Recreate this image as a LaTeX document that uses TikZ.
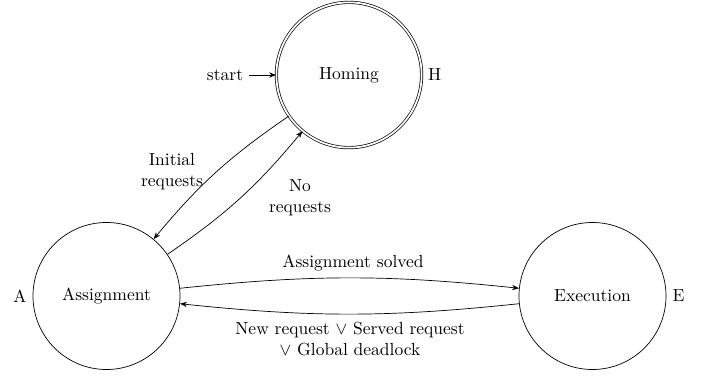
\documentclass[tikz,border=0pt]{standalone}
\usetikzlibrary{arrows.meta}
\begin{document}
\begin{tikzpicture}[x=0.5714pt,y=0.5714pt,
  statenode/.style={circle,draw,minimum size=84pt,inner sep=0pt},
  dbl/.style={double,double distance=1pt},
  trans/.style={-{Stealth[length=4pt,width=3pt]}},
  lbl/.style={align=center}]
\useasboundingbox (0,0) rectangle (710,379);
% states
\node[statenode,dbl,minimum size=83pt,label=right:H] (H) at (349,304) {Homing};
\node[statenode,label=left:A] (A) at (106.5,83) {Assignment};
\node[statenode,label=right:E] (E) at (592.5,83) {Execution};
% initial arrow
\node (st) at (225,304) {start};
\draw[trans] (st) -- (H);
% transitions
\draw[trans] (H) to[bend right=8] (A);
\draw[trans] (A) to[bend right=8] (H);
\draw[trans] (A) to[bend left=6] (E);
\draw[trans] (E) to[bend left=6] (A);
% transition labels
\node[lbl] (l1) at (172,207) {Initial\\requests};
\node[lbl] (l2) at (300,181) {No\\requests};
\node[lbl] (l3) at (353,116) {Assignment solved};
\node[lbl] (l4) at (350,40) {New request $\vee$ Served request\\$\vee$ Global deadlock};
\end{tikzpicture}
\end{document}
